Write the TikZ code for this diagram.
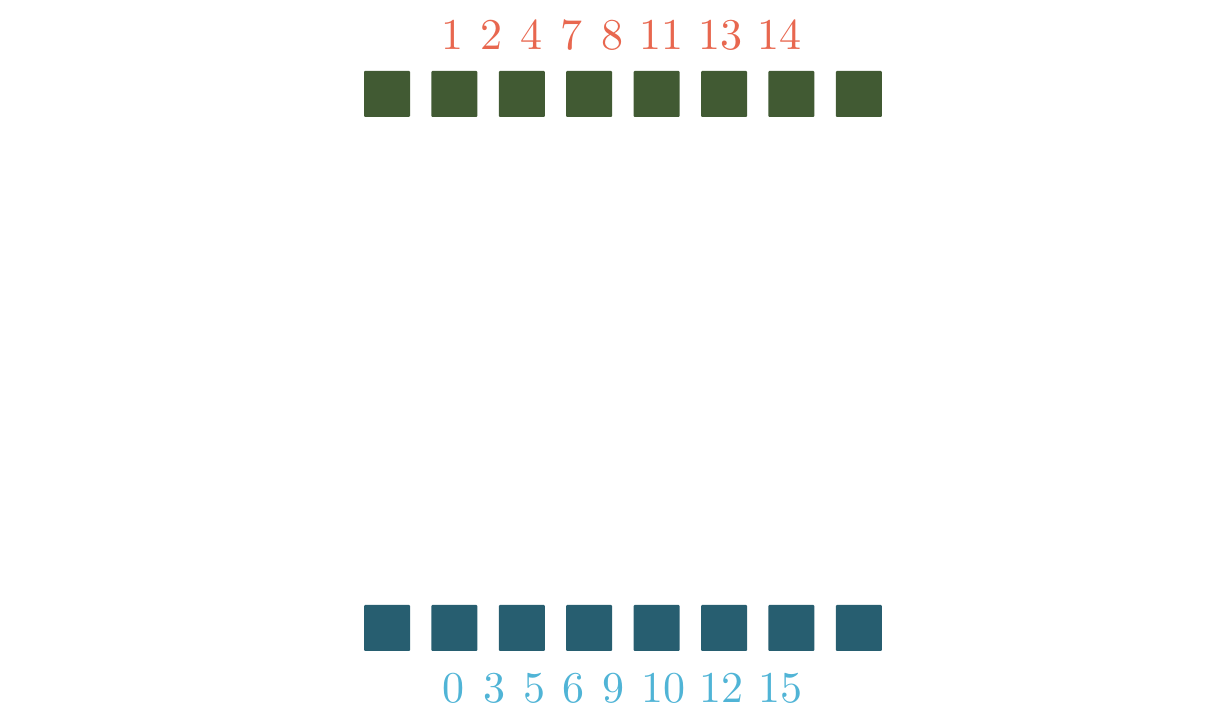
\documentclass[tikz,border=0pt]{standalone}
\definecolor{sqgreen}{HTML}{415A33}
\definecolor{sqteal}{HTML}{275E70}
\definecolor{numred}{HTML}{E8674F}
\definecolor{numblue}{HTML}{50B4D6}
\tikzset{
  cell/.style={draw=none, minimum width=46pt, minimum height=46pt, inner sep=0pt, rounded corners=1pt},
  nums/.style={inner sep=0pt, anchor=base, scale=4.4, font=\fontsize{10}{12}\selectfont}
}
\begin{document}
\begin{tikzpicture}[x=1pt,y=1pt]
\useasboundingbox (0,0) rectangle (1221,715);
\foreach \i in {0,...,7} {
  \node[cell, fill=sqgreen] (t\i) at ({387+67.4*\i},621) {};
  \node[cell, fill=sqteal] (b\i) at ({387+67.4*\i},87) {};
}
\foreach \n/\x [count=\k] in {1/452.5, 2/491, 4/531, 7/571.5, 8/612.5, 11/661.5, 13/720.5, 14/779.5} {
  \node[nums, text=numred] (tl\k) at (\x,665) {\n};
}
\foreach \n/\x [count=\k] in {0/453.5, 3/494, 5/534, 6/573, 9/613, 10/663, 12/721.5, 15/780} {
  \node[nums, text=numblue] (bl\k) at (\x,13) {\n};
}
\end{tikzpicture}
\end{document}
